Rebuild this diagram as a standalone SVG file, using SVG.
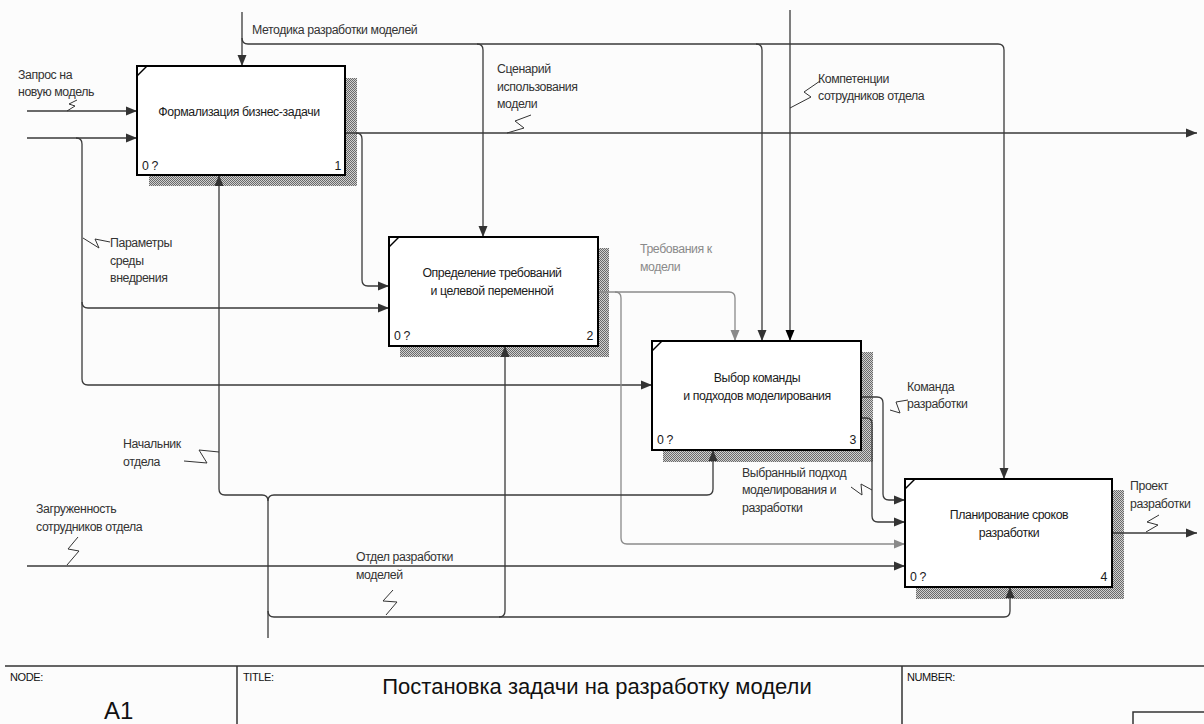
<svg xmlns="http://www.w3.org/2000/svg" width="1204" height="724" viewBox="0 0 1204 724">
<defs>
<pattern id="hatch" width="2" height="2" patternUnits="userSpaceOnUse"><rect width="2" height="2" fill="#d0d0d0"/><rect width="1" height="1" fill="#6a6a6a"/><rect x="1" y="1" width="1" height="1" fill="#6a6a6a"/></pattern>
<marker id="ah" markerUnits="userSpaceOnUse" markerWidth="12" markerHeight="10" refX="11" refY="5" orient="auto"><path d="M0,0.5 L11,5 L0,9.5 z" fill="#333"/></marker>
<marker id="ahg" markerUnits="userSpaceOnUse" markerWidth="12" markerHeight="10" refX="11" refY="5" orient="auto"><path d="M0,0.5 L11,5 L0,9.5 z" fill="#8a8a8a"/></marker>
<marker id="ahb" markerUnits="userSpaceOnUse" markerWidth="12" markerHeight="10" refX="11" refY="5" orient="auto"><path d="M0,0.5 L11,5 L0,9.5 z" fill="#000"/></marker>
</defs>
<style>
.t{font-family:"Liberation Sans",Arial,sans-serif;font-size:12.3px;letter-spacing:-0.4px;fill:#1a1a1a}
.lb{font-family:"Liberation Sans",Arial,sans-serif;font-size:12.3px;letter-spacing:-0.4px;fill:#333}
.lg{fill:#8a8a8a}
.mid{text-anchor:middle}
.end{text-anchor:end}
.c{fill:none;stroke:#3a3a3a;stroke-width:1.3}
.g{stroke:#8a8a8a}
.box{fill:#fff;stroke:#000;stroke-width:2}
.sh{fill:url(#hatch)}
.sq{fill:none;stroke:#333;stroke-width:1}
.fr{stroke:#333;stroke-width:1.5;fill:none}
.small{font-family:"Liberation Sans",Arial,sans-serif;font-size:11px;letter-spacing:-0.4px;fill:#111}
</style>
<rect width="1204" height="724" fill="#fcfcfc"/>

<g id="shadows">
<rect class="sh" x="149" y="78" width="208" height="108"/>
<rect class="sh" x="400" y="248" width="209" height="109"/>
<rect class="sh" x="663" y="352" width="210" height="110"/>
<rect class="sh" x="916" y="490" width="208" height="109"/>
</g>

<g id="connectors">
<path class="c" d="M27,111 H137" marker-end="url(#ah)"/>
<path class="c" d="M27,138 H137" marker-end="url(#ah)"/>
<path class="c" d="M76,138 Q82,138 82,144 V379 Q82,385 88,385 H652" marker-end="url(#ah)"/>
<path class="c" d="M82,302 Q82,308 88,308 H389" marker-end="url(#ah)"/>
<path class="c" d="M345,133 H1197" marker-end="url(#ah)"/>
<path class="c" d="M356,133 Q362,133 362,139 V280 Q362,286 368,286 H389" marker-end="url(#ah)"/>
<path class="c" d="M242,12 V66" marker-end="url(#ah)"/>
<path class="c" d="M242,38 Q242,44 248,44 H998 Q1004,44 1004,50 V479" marker-end="url(#ah)"/>
<path class="c" d="M477,44 Q483,44 483,50 V237" marker-end="url(#ah)"/>
<path class="c" d="M756,44 Q762,44 762,50 V341" marker-end="url(#ah)"/>
<path class="c" d="M790,10 V341" stroke="#111" marker-end="url(#ahb)"/>
<path class="c g" d="M598,292 H729 Q735,292 735,298 V341" marker-end="url(#ahg)"/>
<path class="c g" d="M615,292 Q621,292 621,298 V538 Q621,544 627,544 H905" marker-end="url(#ahg)"/>
<path class="c" d="M861,397 H877 Q883,397 883,403 V494 Q883,500 889,500 H905" marker-end="url(#ah)"/>
<path class="c" d="M861,418 H866 Q872,418 872,424 V516 Q872,522 878,522 H905" marker-end="url(#ah)"/>
<path class="c" d="M1112,533 H1197" marker-end="url(#ah)"/>
<path class="c" d="M27,566 H905" marker-end="url(#ah)"/>
<path class="c" d="M268,638 V501 Q268,495 262,495 H225 Q219,495 219,489 V175" marker-end="url(#ah)"/>
<path class="c" d="M268,501 Q268,495 274,495 H707 Q713,495 713,489 V450" marker-end="url(#ah)"/>
<path class="c" d="M268,611 Q268,617 274,617 H1004 Q1010,617 1010,611 V587" marker-end="url(#ah)"/>
<path class="c" d="M499,617 Q505,617 505,611 V346" marker-end="url(#ah)"/>

<path class="sq" d="M67,111 L75,106 L69,104 L77,100"/>
<path class="sq" d="M507,133 L524,128 L515,121 L531,115"/>
<path class="sq" d="M83,238 L99,248 L95,239 L110,242"/>
<path class="sq" d="M790,108 L811,97 L804,92 L820,81"/>
<path class="sq" d="M890,410 L900,413 L896,402 L908,400"/>
<path class="sq" d="M851,487 L862,495 L861,484 L872,490"/>
<path class="sq" d="M1146,532 L1158,525 L1147,522 L1159,515"/>
<path class="sq" d="M219,452 L199,450 L207,463 L184,461"/>
<path class="sq" d="M67,565 L79,551 L68,549 L78,537"/>
<path class="sq" d="M386,615 L397,602 L383,601 L393,590"/>

<text class="lb" x="18" y="79">Запрос на</text>
<text class="lb" x="18" y="96">новую модель</text>
<text class="lb" x="252" y="34">Методика разработки моделей</text>
<text class="lb" x="497" y="73">Сценарий</text>
<text class="lb" x="497" y="91">использования</text>
<text class="lb" x="497" y="108">модели</text>
<text class="lb" x="818" y="83">Компетенции</text>
<text class="lb" x="818" y="100">сотрудников отдела</text>
<text class="lb" x="110" y="247">Параметры</text>
<text class="lb" x="110" y="265">среды</text>
<text class="lb" x="110" y="282">внедрения</text>
<text class="lb lg" x="640" y="253">Требования к</text>
<text class="lb lg" x="640" y="271">модели</text>
<text class="lb" x="907" y="391">Команда</text>
<text class="lb" x="907" y="408">разработки</text>
<text class="lb" x="742" y="477">Выбранный подход</text>
<text class="lb" x="742" y="494">моделирования и</text>
<text class="lb" x="742" y="512">разработки</text>
<text class="lb" x="1130" y="490">Проект</text>
<text class="lb" x="1130" y="508">разработки</text>
<text class="lb" x="123" y="448">Начальник</text>
<text class="lb" x="123" y="466">отдела</text>
<text class="lb" x="36" y="513">Загруженность</text>
<text class="lb" x="36" y="531">сотрудников отдела</text>
<text class="lb" x="356" y="561">Отдел разработки</text>
<text class="lb" x="356" y="579">моделей</text>
</g>

<g id="node1">
<rect class="box" x="137" y="66" width="208" height="109"/>
<line x1="137" y1="76" x2="147" y2="66" stroke="#000" stroke-width="1.5"/>
<text class="t mid" x="239" y="116">Формализация бизнес-задачи</text>
<text class="t" x="142" y="170">0 ?</text>
<text class="t end" x="341" y="170">1</text>
</g>

<g id="node2">
<rect class="box" x="389" y="237" width="209" height="109"/>
<line x1="389" y1="247" x2="399" y2="237" stroke="#000" stroke-width="1.5"/>
<text class="t mid" x="492" y="277">Определение требований</text>
<text class="t mid" x="492" y="295">и целевой переменной</text>
<text class="t" x="394" y="340">0 ?</text>
<text class="t end" x="593" y="340">2</text>
</g>

<g id="node3">
<rect class="box" x="652" y="341" width="209" height="109"/>
<line x1="652" y1="351" x2="662" y2="341" stroke="#000" stroke-width="1.5"/>
<text class="t mid" x="757" y="382">Выбор команды</text>
<text class="t mid" x="757" y="400">и подходов моделирования</text>
<text class="t" x="657" y="444">0 ?</text>
<text class="t end" x="856" y="444">3</text>
</g>

<g id="node4">
<rect class="box" x="905" y="479" width="207" height="108"/>
<line x1="905" y1="489" x2="915" y2="479" stroke="#000" stroke-width="1.5"/>
<text class="t mid" x="1009" y="519">Планирование сроков</text>
<text class="t mid" x="1009" y="537">разработки</text>
<text class="t" x="910" y="581">0 ?</text>
<text class="t end" x="1107" y="581">4</text>
</g>

<g id="frame">
<line class="fr" x1="5" y1="666" x2="1204" y2="666"/>
<line class="fr" x1="237" y1="666" x2="237" y2="724"/>
<line class="fr" x1="902" y1="666" x2="902" y2="724"/>
<rect class="fr" x="1133" y="712" width="80" height="20"/>
<text class="small" x="10" y="681">NODE:</text>
<text class="small" x="243" y="681">TITLE:</text>
<text class="small" x="907" y="681">NUMBER:</text>
<text x="104" y="719" font-family="Liberation Sans, Arial, sans-serif" font-size="24" fill="#111">A1</text>
<text x="597" y="694" text-anchor="middle" font-family="Liberation Sans, Arial, sans-serif" font-size="22" fill="#111">Постановка задачи на разработку модели</text>
</g>
</svg>
